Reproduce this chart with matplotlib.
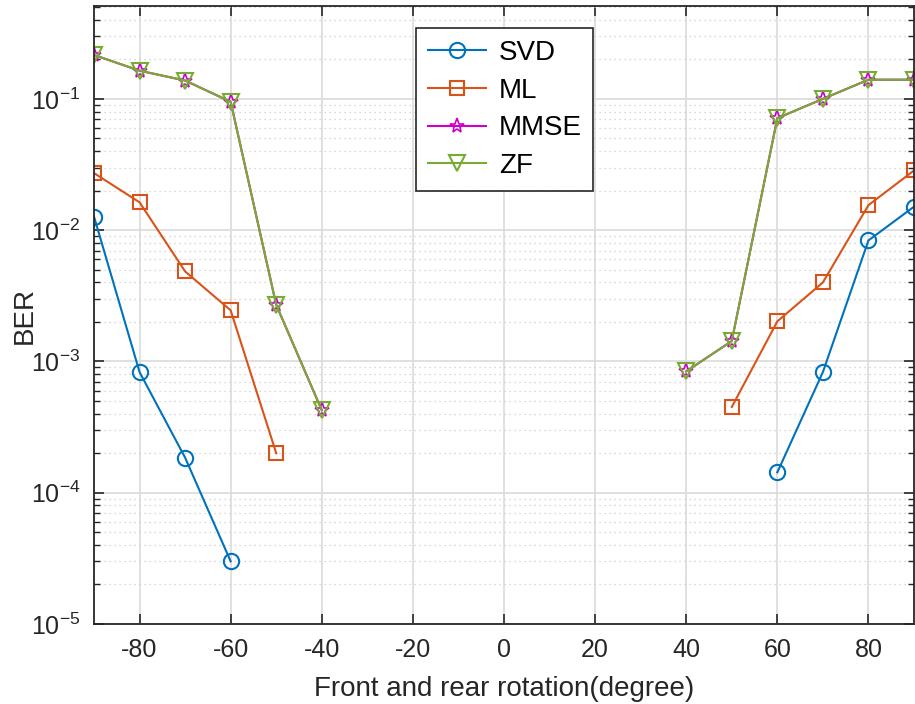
import numpy as np
import matplotlib
matplotlib.use("Agg")
import matplotlib.pyplot as plt
from matplotlib.ticker import LogLocator, NullFormatter

# angles (degree)
x_svd = [-90, -80, -70, -60, np.nan, 60, 70, 80, 90]
ber_svd = [0.0127, 8.3e-4, 1.85e-4, 3.0e-5, np.nan, 1.43e-4, 8.3e-4, 8.35e-3, 0.0151]

x_ml = [-90, -80, -70, -60, -50, np.nan, 50, 60, 70, 80, 90]
ber_ml = [0.0272, 0.0163, 4.85e-3, 2.45e-3, 2.0e-4, np.nan, 4.5e-4, 2.02e-3, 4.0e-3, 0.0155, 0.0285]

x_zf = [-90, -80, -70, -60, -50, -40, np.nan, 40, 50, 60, 70, 80, 90]
ber_mmse = [0.216, 0.164, 0.138, 0.095, 2.7e-3, 4.25e-4, np.nan, 8.4e-4, 1.43e-3, 0.0713, 0.1, 0.14, 0.14]
ber_zf = [0.216, 0.164, 0.138, 0.095, 2.7e-3, 4.25e-4, np.nan, 8.4e-4, 1.43e-3, 0.0713, 0.1, 0.14, 0.14]

plt.rcParams['font.family'] = ['Liberation Sans', 'DejaVu Sans']
plt.rcParams['axes.unicode_minus'] = False

fig = plt.figure(figsize=(9.15, 7.04), dpi=100)
ax = fig.add_axes([94 / 915, 80 / 704, 820 / 915, 618 / 704])

ax.semilogy(x_svd, ber_svd, '-o', color='#0072BD', lw=1.5, ms=11, mfc='none', mew=1.5, label='SVD')
ax.semilogy(x_ml, ber_ml, '-s', color='#D95319', lw=1.5, ms=10, mfc='none', mew=1.5, label='ML')
ax.semilogy(x_zf, ber_mmse, '-*', color='#CC00CC', lw=1.5, ms=11, mfc='none', mew=1.2, label='MMSE')
ax.semilogy(x_zf, ber_zf, '-v', color='#77AC30', lw=1.5, ms=12, mfc='none', mew=1.5, label='ZF')

ax.set_xlim(-90, 90)
ax.set_ylim(1e-5, 0.51)
ax.set_xticks(np.arange(-80, 81, 20))
ax.yaxis.set_major_locator(LogLocator(base=10, numticks=10))
ax.yaxis.set_minor_locator(LogLocator(base=10, subs=np.arange(2, 10), numticks=20))
ax.yaxis.set_minor_formatter(NullFormatter())

ax.grid(True, which='major', color='#DADADA', lw=1.2, ls='-')
ax.grid(True, which='minor', axis='y', color='#CCCCCC', lw=0.9, ls=(0, (1, 3)))
ax.set_axisbelow(True)

ax.tick_params(which='both', direction='in', top=True, right=True, colors='#262626', labelsize=18)
ax.tick_params(which='major', length=7, width=1.2, pad=10)
ax.tick_params(which='minor', length=4, width=1.0)
for s in ax.spines.values():
    s.set_color('#262626')
    s.set_linewidth(1.3)

ax.set_xlabel('Front and rear rotation(degree)', fontsize=20, color='#262626', labelpad=10)
ax.set_ylabel('BER', fontsize=20, color='#262626', labelpad=-5)

leg = ax.legend(loc='upper left', bbox_to_anchor=(0.393, 0.964), borderaxespad=0, fontsize=20,
                handlelength=2.1, fancybox=False, framealpha=1, edgecolor='#262626',
                labelspacing=0.42, borderpad=0.42, handletextpad=0.45)
leg.get_frame().set_linewidth(1.2)

fig.savefig('out.png', dpi=100)
